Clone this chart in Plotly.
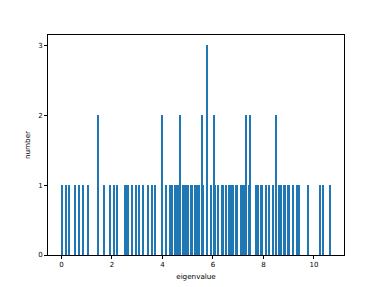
import numpy as np
import plotly.graph_objects as go

# eigenvalues
eigenvalues = [
    0.00, 0.20, 0.30, 0.58, 0.72, 0.89, 1.05, 1.45, 1.45,
    1.68, 1.92, 2.08, 2.20, 2.52, 2.58, 2.64, 2.78, 2.94, 3.06, 3.21, 3.42,
    3.58, 3.73, 3.95, 3.95, 4.11, 4.27, 4.33, 4.40, 4.48, 4.55, 4.62,
    4.72, 4.72, 4.81, 4.87, 4.95, 5.04, 5.12, 5.20, 5.28, 5.35, 5.45,
    5.58, 5.58, 5.64, 5.77, 5.77, 5.77, 5.93, 6.05, 6.05, 6.12,
    6.20, 6.36, 6.44, 6.52, 6.66, 6.74, 6.81, 6.88, 6.95,
    7.10, 7.17, 7.23, 7.33, 7.33, 7.44,
    7.51, 7.51, 7.71, 7.83, 7.91, 7.98, 8.13, 8.26, 8.38,
    8.51, 8.51, 8.62, 8.74, 8.81, 8.89, 8.96, 9.04, 9.19, 9.36, 9.43,
    9.80, 10.27, 10.36, 10.66,
]
n_bins = 200
x_ticks = [0, 2, 4, 6, 8, 10]
y_ticks = [0, 1, 2, 3]

counts, edges = np.histogram(eigenvalues, bins=n_bins)
centers = (edges[:-1] + edges[1:]) / 2
bw = edges[1] - edges[0]

lo, hi = edges[0], edges[-1]
pad = 0.05 * (hi - lo)

fig = go.Figure(go.Bar(
    x=centers, y=counts, width=bw,
    marker=dict(color="#1f77b4", line=dict(width=0)),
))

axis_common = dict(
    showline=True, linecolor="black", linewidth=0.8, mirror=True,
    ticks="outside", ticklen=3, tickwidth=0.8, tickcolor="black",
    showgrid=False, zeroline=False, automargin=False,
    tickfont=dict(family="DejaVu Sans", size=7, color="black"),
)
title_font = dict(family="DejaVu Sans", size=7.2, color="black")
fig.update_layout(
    width=382, height=287,
    margin=dict(l=48, r=38, t=35, b=32),
    paper_bgcolor="white", plot_bgcolor="white",
    bargap=0, showlegend=False,
    font=dict(family="DejaVu Sans", size=7, color="black"),
    xaxis=dict(range=[lo - pad, hi + pad], tickvals=x_ticks,
               title=dict(text="eigenvalue", standoff=5, font=title_font),
               **axis_common),
    yaxis=dict(range=[0, 3.15], tickvals=y_ticks,
               title=dict(text="number", standoff=6, font=title_font),
               **axis_common),
)
fig.write_html("out.html", config={"displayModeBar": False},
               post_script="document.body.style.margin='0';")
